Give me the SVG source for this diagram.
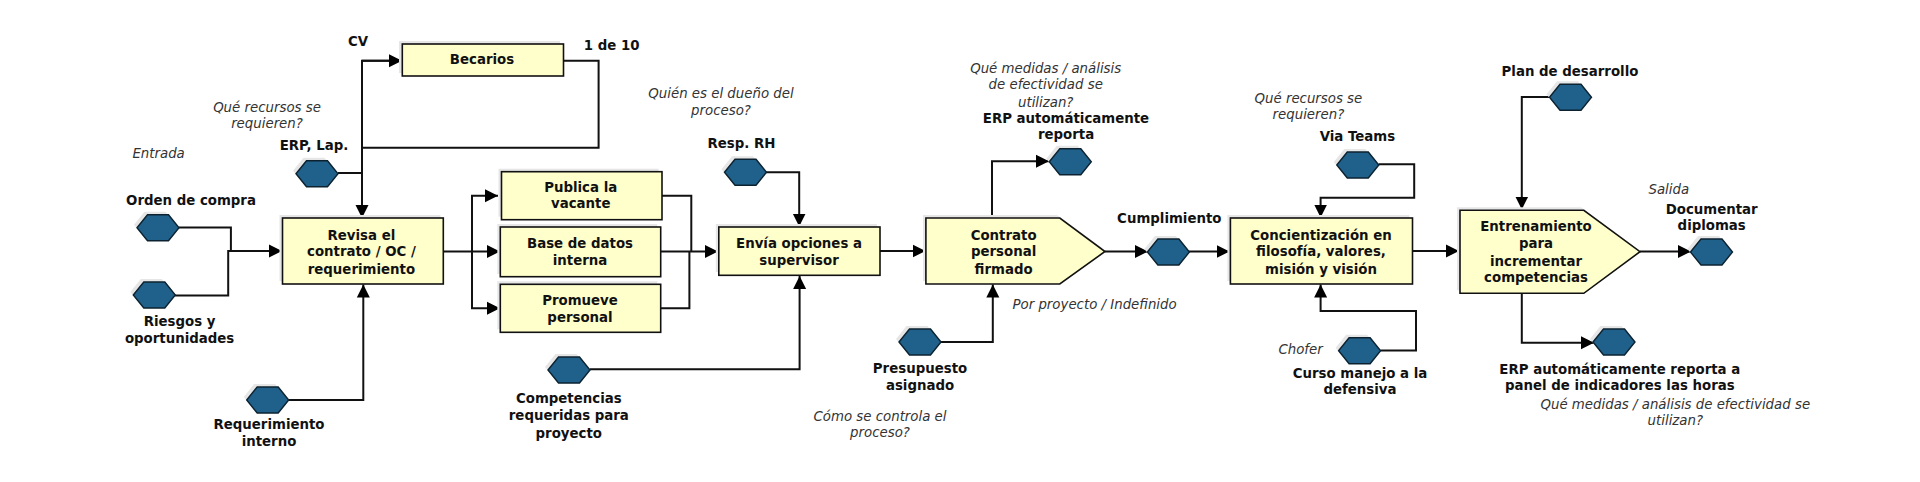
<svg xmlns="http://www.w3.org/2000/svg" width="1920" height="482" viewBox="0 0 1920 482">
<style>
text{font-family:"DejaVu Sans","Liberation Sans",sans-serif;font-size:13.33px;fill:#111;text-anchor:middle}
.b{font-weight:700}
.i{font-style:italic;fill:#333}
.box{fill:#ffffcc;stroke:#111;stroke-width:1.6}
.sh{fill:#e6e6e6;stroke:none}
.hex{fill:#1f618b;stroke:#0c2230;stroke-width:1.4}
.c{fill:none;stroke:#111;stroke-width:2;stroke-linejoin:miter}
</style>
<defs>
<marker id="a" markerUnits="userSpaceOnUse" markerWidth="14" markerHeight="14" refX="13" refY="7" orient="auto"><path d="M0 0.5L13 7L0 13.500Z" fill="#000"/></marker>
<polygon id="h" points="-21,0 -10.500,-13 10.500,-13 21,0 10.500,13 -10.500,13"/>
</defs>
<rect width="1920" height="482" fill="#fff"/>
<g id="connectors">
<path class="c" d="M179 227.500H230.900V251"/>
<path class="c" d="M174.600 295.500H228.200V251H282" marker-end="url(#a)"/>
<path class="c" d="M402 60.700H362V218" marker-end="url(#a)"/>
<path class="c" d="M362 60.700H402" marker-end="url(#a)"/>
<path class="c" d="M563.500 60.700H598.600V147.700H362"/>
<path class="c" d="M338 173H362"/>
<path class="c" d="M288.700 400H363.300V284.500" marker-end="url(#a)"/>
<path class="c" d="M443.500 251.500H500" marker-end="url(#a)"/>
<path class="c" d="M472 251.500V195.700H498" marker-end="url(#a)"/>
<path class="c" d="M472 251.500V308.300H500" marker-end="url(#a)"/>
<path class="c" d="M662 195.700H691.300V251"/>
<path class="c" d="M660.700 308.300H689.400V251"/>
<path class="c" d="M660.700 251.500H718" marker-end="url(#a)"/>
<path class="c" d="M766 172.300H799.200V226.500" marker-end="url(#a)"/>
<path class="c" d="M590 369.300H799.600V276" marker-end="url(#a)"/>
<path class="c" d="M880 251H925.500" marker-end="url(#a)"/>
<path class="c" d="M992 218V161.300H1049" marker-end="url(#a)"/>
<path class="c" d="M941 342H992.800V284.500" marker-end="url(#a)"/>
<path class="c" d="M1105 251.500H1148" marker-end="url(#a)"/>
<path class="c" d="M1189 251.500H1229.500" marker-end="url(#a)"/>
<path class="c" d="M1378.700 164.300H1414.200V197.700H1320.600V217.500" marker-end="url(#a)"/>
<path class="c" d="M1380.400 350.500H1416V311H1320.600V284.500" marker-end="url(#a)"/>
<path class="c" d="M1412.500 251H1459" marker-end="url(#a)"/>
<path class="c" d="M1640 251.500H1691" marker-end="url(#a)"/>
<path class="c" d="M1550 97H1521.800V209.500" marker-end="url(#a)"/>
<path class="c" d="M1521.800 293.500V342.700H1594" marker-end="url(#a)"/>
</g>
<g id="becarios"><rect class="sh" x="399" y="41" width="161" height="32"/><rect class="box" x="402.300" y="44" width="161.200" height="32"/><text class="b" x="482" y="64">Becarios</text></g>
<g id="revisa"><rect class="sh" x="279.500" y="215" width="161" height="66"/><rect class="box" x="282.500" y="218" width="160.800" height="66"/><text class="b" x="361.400" y="239.700">Revisa el</text><text class="b" x="361.400" y="256">contrato / OC /</text><text class="b" x="361.400" y="274">requerimiento</text></g>
<g id="publica"><rect class="sh" x="498.500" y="168.700" width="160" height="48"/><rect class="box" x="501.500" y="171.700" width="160.500" height="48"/><text class="b" x="580.700" y="191.700">Publica la</text><text class="b" x="580.700" y="208">vacante</text></g>
<g id="base"><rect class="sh" x="497.300" y="224" width="160" height="50"/><rect class="box" x="500.300" y="227" width="160.400" height="49.700"/><text class="b" x="580" y="248.300">Base de datos</text><text class="b" x="580" y="265">interna</text></g>
<g id="promueve"><rect class="sh" x="497.300" y="281.300" width="160" height="48"/><rect class="box" x="500.300" y="284.300" width="160.400" height="48"/><text class="b" x="580" y="305">Promueve</text><text class="b" x="580" y="321.700">personal</text></g>
<g id="envia"><rect class="sh" x="715.800" y="224" width="161" height="48"/><rect class="box" x="718.800" y="227" width="161.200" height="48.300"/><text class="b" x="799" y="248">Envía opciones a</text><text class="b" x="799" y="264.700">supervisor</text></g>
<g id="contrato"><polygon class="sh" points="923,215 1057,215 1102,248 1057,281 923,281"/><polygon class="box" points="925.900,218 1059.800,218 1105,251.500 1059.800,284 925.900,284"/><text class="b" x="1003.600" y="239.700">Contrato</text><text class="b" x="1003.600" y="256">personal</text><text class="b" x="1003.600" y="274">firmado</text></g>
<g id="concientizacion"><rect class="sh" x="1227.400" y="215" width="182" height="66"/><rect class="box" x="1230.400" y="218" width="182.100" height="66"/><text class="b" x="1321" y="239.700">Concientización en</text><text class="b" x="1321" y="256">filosofía, valores,</text><text class="b" x="1321" y="274">misión y visión</text></g>
<g id="entrenamiento"><polygon class="sh" points="1457,207.300 1581,207.300 1637,248.700 1581,290.300 1457,290.300"/><polygon class="box" points="1460,210.300 1583.800,210.300 1640,251.700 1583.800,293.300 1460,293.300"/><text class="b" x="1536" y="231">Entrenamiento</text><text class="b" x="1536" y="248">para</text><text class="b" x="1536" y="265.700">incrementar</text><text class="b" x="1536" y="282.300">competencias</text></g>
<g id="h-orden"><use href="#h" class="sh" x="155" y="224.800"/><use href="#h" class="hex" x="158" y="227.800"/><text class="b" x="191" y="204.700">Orden de compra</text></g>
<g id="h-riesgos"><use href="#h" class="sh" x="151.300" y="292"/><use href="#h" class="hex" x="154.300" y="295"/><text class="b" x="179.600" y="326">Riesgos y</text><text class="b" x="179.600" y="343">oportunidades</text></g>
<g id="h-erp"><use href="#h" class="sh" x="314" y="170.700"/><use href="#h" class="hex" x="317" y="173.700"/><text class="b" x="314" y="149.500">ERP, Lap.</text></g>
<g id="h-requerimiento"><use href="#h" class="sh" x="264.700" y="397"/><use href="#h" class="hex" x="267.700" y="400"/><text class="b" x="269" y="429.300">Requerimiento</text><text class="b" x="269" y="446">interno</text></g>
<g id="h-competencias"><use href="#h" class="sh" x="566" y="367"/><use href="#h" class="hex" x="569" y="370"/><text class="b" x="568.800" y="403">Competencias</text><text class="b" x="568.800" y="420">requeridas para</text><text class="b" x="568.800" y="437.700">proyecto</text></g>
<g id="h-resp"><use href="#h" class="sh" x="742.500" y="169.300"/><use href="#h" class="hex" x="745.500" y="172.300"/><text class="b" x="741.400" y="148.300">Resp. RH</text></g>
<g id="h-reporta"><use href="#h" class="sh" x="1067.300" y="158.700"/><use href="#h" class="hex" x="1070.300" y="161.700"/><text class="b" x="1066" y="123">ERP automáticamente</text><text class="b" x="1066" y="139.300">reporta</text></g>
<g id="h-presupuesto"><use href="#h" class="sh" x="917" y="339"/><use href="#h" class="hex" x="920" y="342"/><text class="b" x="920" y="373.300">Presupuesto</text><text class="b" x="920" y="390.300">asignado</text></g>
<g id="h-cumplimiento"><use href="#h" class="sh" x="1165.400" y="249"/><use href="#h" class="hex" x="1168.400" y="252"/><text class="b" x="1169.300" y="222.700">Cumplimiento</text></g>
<g id="h-teams"><use href="#h" class="sh" x="1354.800" y="162"/><use href="#h" class="hex" x="1357.800" y="165"/><text class="b" x="1357.400" y="140.700">Via Teams</text></g>
<g id="h-curso"><use href="#h" class="sh" x="1356.600" y="347.700"/><use href="#h" class="hex" x="1359.600" y="350.700"/><text class="b" x="1360" y="377.700">Curso manejo a la</text><text class="b" x="1360" y="394">defensiva</text></g>
<g id="h-plan"><use href="#h" class="sh" x="1567.500" y="94.300"/><use href="#h" class="hex" x="1570.500" y="97.300"/><text class="b" x="1570" y="76.300">Plan de desarrollo</text></g>
<g id="h-documentar"><use href="#h" class="sh" x="1708.500" y="249"/><use href="#h" class="hex" x="1711.500" y="252"/><text class="b" x="1711.700" y="213.700">Documentar</text><text class="b" x="1711.700" y="230">diplomas</text></g>
<g id="h-panel"><use href="#h" class="sh" x="1611" y="339"/><use href="#h" class="hex" x="1614" y="342"/><text class="b" x="1619.800" y="373.700">ERP automáticamente reporta a</text><text class="b" x="1619.800" y="390.300">panel de indicadores las horas</text></g>
<g id="notes">
<text class="b" x="358" y="45.500">CV</text>
<text class="b" x="611.700" y="50">1 de 10</text>
<text class="i" x="267" y="111.700">Qué recursos se</text><text class="i" x="267" y="128">requieren?</text>
<text class="i" x="158.600" y="158">Entrada</text>
<text class="i" x="721" y="98">Quién es el dueño del</text><text class="i" x="721" y="115">proceso?</text>
<text class="i" x="1045.700" y="72.700">Qué medidas / análisis</text><text class="i" x="1045.700" y="89.300">de efectividad se</text><text class="i" x="1045.700" y="106.700">utilizan?</text>
<text class="i" x="1094.600" y="309">Por proyecto / Indefinido</text>
<text class="i" x="880" y="420.700">Cómo se controla el</text><text class="i" x="880" y="437.300">proceso?</text>
<text class="i" x="1308.400" y="103">Qué recursos se</text><text class="i" x="1308.400" y="119.300">requieren?</text>
<text class="i" x="1300.600" y="354">Chofer</text>
<text class="i" x="1668.800" y="194.300">Salida</text>
<text class="i" x="1675.300" y="408.700">Qué medidas / análisis de efectividad se</text><text class="i" x="1675.300" y="425">utilizan?</text>
</g>
</svg>
